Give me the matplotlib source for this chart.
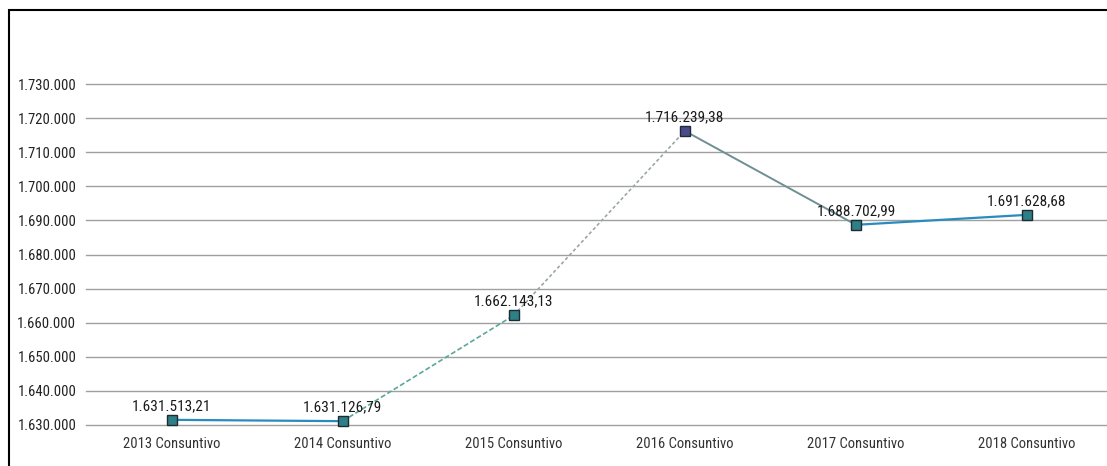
import matplotlib
matplotlib.use('Agg')
import matplotlib.pyplot as plt
from matplotlib import font_manager
from matplotlib.patches import Rectangle

categories = ['2013 Consuntivo', '2014 Consuntivo', '2015 Consuntivo',
              '2016 Consuntivo', '2017 Consuntivo', '2018 Consuntivo']
values = [1631513.21, 1631126.79, 1662143.13, 1716239.38, 1688702.99, 1691628.68]
y_ticks = list(range(1630000, 1730001, 10000))


def fmt_it(v, dec=0):
    s = f"{v:,.{dec}f}"
    return s.replace(',', 'X').replace('.', ',').replace('X', '.')


# pick a narrow face if one exists
names = {f.name for f in font_manager.fontManager.ttflist}
narrow = [n for n in ['Liberation Sans Narrow', 'DejaVu Sans Condensed', 'Roboto Condensed',
                      'Open Sans Condensed'] if n in names]
plt.rcParams['font.family'] = narrow + ['DejaVu Sans']
if not narrow:
    plt.rcParams['font.stretch'] = 'condensed'

fig = plt.figure(figsize=(11.07, 4.66), dpi=100, facecolor='white')
ax = fig.add_axes([86 / 1107, 41 / 466, 1 - 86 / 1107 + 0.005, (425 - 84) / 466])

x = list(range(len(values)))

# each segment gets its own look, like the original export
seg_styles = [
    dict(color='#2a8bbf', lw=1.6, ls='-'),
    dict(color='#5aa89a', lw=1.2, ls=(0, (3, 1.5))),
    dict(color='#9aa6a8', lw=1.2, ls=(0, (2, 1.5))),
    dict(color='#6f8f94', lw=1.4, ls='-'),
    dict(color='#2a8bbf', lw=1.6, ls='-'),
]
for i, st in enumerate(seg_styles):
    ax.plot(x[i:i + 2], values[i:i + 2], zorder=3, clip_on=False, **st)

face = ['#2f7f86', '#2f7f86', '#2f7f86', '#4a4a8a', '#2f7f86', '#2f7f86']
for xi, v, fc in zip(x, values, face):
    ax.plot(xi, v, marker='s', ms=7, mfc=fc, mec='#1c2c34', mew=1.0, zorder=4, clip_on=False)
    ax.annotate(fmt_it(v, 2), (xi, v), xytext=(0, 5), textcoords='offset points',
                ha='center', va='bottom', fontsize=11, color='#1a1a1a', zorder=5)

ax.set_xlim(-0.5, len(values) - 0.5)
ax.set_ylim(1630000, 1730000)
ax.set_yticks(y_ticks)
ax.set_yticklabels([fmt_it(t) for t in y_ticks], fontsize=10.5, color='#222222')
ax.set_xticks(x)
ax.set_xticklabels(categories, fontsize=10.5, color='#333333')
ax.tick_params(axis='both', length=0)
ax.tick_params(axis='y', pad=7)
ax.tick_params(axis='x', pad=9)
ax.yaxis.grid(True, color='#a0a0a0', lw=1.0)
for gl in ax.get_ygridlines():
    gl.set_clip_on(False)
ax.set_axisbelow(True)
for sp in ax.spines.values():
    sp.set_visible(False)

# outer frame, cropped on right and bottom
fig.patches.append(Rectangle((9 / 1107, -0.05), 1.1, 1 - 10 / 466 + 0.05,
                             transform=fig.transFigure, fill=False,
                             edgecolor='black', lw=1.5, zorder=0))

fig.savefig('out.png', dpi=100, facecolor='white')
